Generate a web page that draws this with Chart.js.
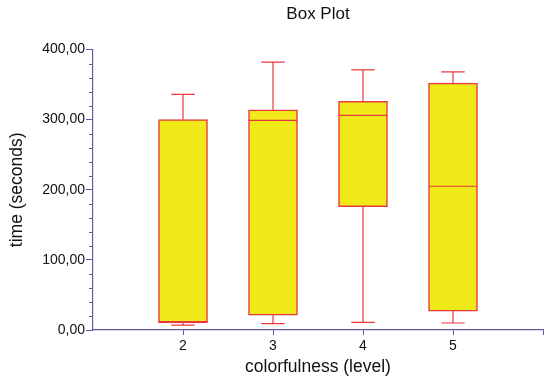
<!DOCTYPE html>
<html><head><meta charset="utf-8">
<script src="https://cdn.jsdelivr.net/npm/chart.js@4/dist/chart.umd.min.js"></script>
<style>html,body{margin:0;padding:0;background:#fff}#wrap{width:550px;height:383px}</style>
</head><body><div id="wrap"><canvas id="c" width="550" height="383"></canvas></div>
<script>
const levels = [2, 3, 4, 5];
const whiskerLow = [7, 9, 11, 10];
const q1 = [10, 21, 176, 27];
const median = [12, 299, 306, 205];
const q3 = [300, 314, 326, 352];
const whiskerHigh = [336, 382, 371, 368];
const yTickLabels = [0, 100, 200, 300, 400];

const RED = '#e8383f';
const YELLOW = '#f2ea18';
const AXIS = '#5a5aa8';
const FONT = 'Liberation Sans, Arial';

const boxPlugin = {
  id: 'boxparts',
  afterDatasetsDraw(chart) {
    const ctx = chart.ctx, xs = chart.scales.x, ys = chart.scales.y;
    ctx.save();
    ctx.strokeStyle = RED;
    ctx.lineWidth = 1.2;
    levels.forEach((lv, i) => {
      const cx = xs.getPixelForValue(lv);
      const capHalf = (xs.getPixelForValue(lv + 0.13) - cx);
      const boxHalf = (xs.getPixelForValue(lv + 0.27) - cx);
      const yl = ys.getPixelForValue(whiskerLow[i]);
      const yq1 = ys.getPixelForValue(q1[i]);
      const yq3 = ys.getPixelForValue(q3[i]);
      const yh = ys.getPixelForValue(whiskerHigh[i]);
      const ym = ys.getPixelForValue(median[i]);
      ctx.beginPath();
      ctx.moveTo(cx, yq3); ctx.lineTo(cx, yh);
      ctx.moveTo(cx - capHalf, yh); ctx.lineTo(cx + capHalf, yh);
      ctx.moveTo(cx, yq1); ctx.lineTo(cx, yl);
      ctx.moveTo(cx - capHalf, yl); ctx.lineTo(cx + capHalf, yl);
      ctx.moveTo(cx - boxHalf, ym); ctx.lineTo(cx + boxHalf, ym);
      ctx.stroke();
    });
    // minor ticks on y axis
    ctx.strokeStyle = AXIS;
    ctx.lineWidth = 1;
    const left = chart.chartArea.left;
    ctx.beginPath();
    ys.ticks.forEach(t => {
      if (!yTickLabels.includes(t.value)) {
        const py = Math.round(ys.getPixelForValue(t.value)) + 0.5;
        ctx.moveTo(left - 4, py); ctx.lineTo(left, py);
      }
    });
    ctx.stroke();
    ctx.restore();
  }
};

const fmt = v => v.toFixed(2).replace('.', ',');

new Chart(document.getElementById('c'), {
  type: 'bar',
  data: {
    datasets: [{
      data: levels.map((lv, i) => ({ x: lv, y: [q1[i], q3[i]] })),
      backgroundColor: YELLOW,
      borderColor: RED,
      borderWidth: 1.5,
      borderSkipped: false,
      barThickness: 49
    }]
  },
  options: {
    responsive: false,
    animation: false,
    devicePixelRatio: 1,
    layout: { padding: { left: 0, right: 7, top: 0, bottom: 0 } },
    plugins: {
      legend: { display: false },
      tooltip: { enabled: false },
      title: {
        display: true,
        fullSize: false,
        text: 'Box Plot',
        color: '#111',
        font: { family: FONT, size: 17, weight: 'normal' },
        padding: { top: 4, bottom: 25.1 }
      }
    },
    scales: {
      x: {
        type: 'linear',
        min: 1, max: 6,
        offset: false,
        afterFit: s => { s.height = 53; },
        ticks: {
          stepSize: 1,
          autoSkip: false,
          maxRotation: 0,
          color: '#111',
          font: { family: FONT, size: 14 },
          padding: 3,
          callback: v => (v >= 2 && v <= 5) ? String(v) : ''
        },
        grid: {
          offset: false,
          drawOnChartArea: false,
          drawTicks: true,
          tickLength: 5,
          tickColor: ctx => (ctx.tick && ctx.tick.value === 1) ? 'rgba(0,0,0,0)' : AXIS
        },
        border: { color: AXIS, width: 1.2 },
        title: {
          display: true,
          text: 'colorfulness (level)',
          color: '#111',
          font: { family: FONT, size: 17.5 },
          padding: { top: 0, bottom: 5 }
        }
      },
      y: {
        min: 0, max: 400,
        afterFit: s => { s.width = 93; },
        ticks: {
          stepSize: 20,
          autoSkip: false,
          color: '#111',
          font: { family: FONT, size: 14 },
          padding: 1,
          callback: v => yTickLabels.includes(v) ? fmt(v) : ''
        },
        grid: {
          drawOnChartArea: false,
          drawTicks: true,
          tickLength: 7,
          tickColor: ctx => (ctx.tick && yTickLabels.includes(ctx.tick.value)) ? AXIS : 'rgba(0,0,0,0)'
        },
        border: { color: AXIS, width: 1.2 },
        title: {
          display: true,
          text: 'time (seconds)',
          color: '#111',
          font: { family: FONT, size: 17.5 },
          padding: { top: 7, bottom: 0 }
        }
      }
    }
  },
  plugins: [boxPlugin]
});
</script>
</body></html>
